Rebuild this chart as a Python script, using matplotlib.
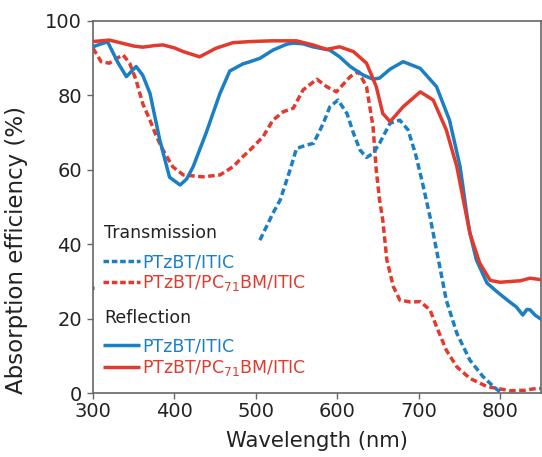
import numpy as np
import matplotlib
matplotlib.use("Agg")
import matplotlib.pyplot as plt
from matplotlib.transforms import offset_copy

# ---------------- data ----------------
refl_itic_wl = [300, 310, 318, 331, 341, 353, 361, 370, 382, 394, 407, 415, 423, 439, 456,
                468, 484, 493, 505, 521, 538, 546, 558, 570, 591, 603, 616, 632, 644, 652,
                665, 681, 702, 722, 738, 751, 759, 763, 771, 784, 795, 804, 812, 820, 828,
                833, 837, 843, 849]
refl_itic_val = [93.0, 93.8, 94.3, 88.6, 85.0, 87.7, 85.4, 80.5, 68.0, 58.0, 55.9, 57.5, 60.8,
                 69.9, 80.5, 86.5, 88.4, 89.0, 89.9, 92.1, 93.7, 94.0, 93.8, 93.0, 92.1, 90.3,
                 87.7, 85.4, 84.3, 84.6, 87.0, 89.0, 87.2, 82.3, 73.3, 60.8, 48.4, 43.0, 35.8,
                 29.6, 27.5, 25.9, 24.5, 23.2, 21.0, 22.5, 22.4, 21.0, 20.1]

refl_pcbm_wl = [300, 310, 320, 337, 350, 361, 375, 386, 400, 411, 431, 451, 472, 493, 520,
                550, 570, 587, 603, 620, 636, 642, 648, 656, 665, 681, 702, 718, 734, 747,
                759, 763, 775, 788, 800, 812, 825, 837, 850]
refl_pcbm_val = [94.4, 94.6, 94.8, 93.9, 93.2, 92.9, 93.3, 93.5, 92.7, 91.7, 90.3, 92.6, 94.1,
                 94.4, 94.6, 94.6, 93.5, 92.3, 93.0, 91.7, 88.6, 85.5, 82.3, 75.1, 72.9, 76.9,
                 80.9, 78.7, 70.7, 60.8, 47.4, 43.0, 35.0, 30.3, 29.8, 30.0, 30.2, 30.9, 30.5]

trans_pcbm_wl = [300, 310, 320, 330, 337, 345, 353, 361, 370, 378, 386, 398, 411, 435, 456,
                 472, 484, 493, 509, 521, 534, 546, 558, 575, 587, 599, 616, 626, 636, 644,
                 648, 652, 656, 661, 669, 677, 690, 702, 714, 722, 734, 747, 763, 784, 812,
                 830, 845, 850]
trans_pcbm_val = [92.6, 89.0, 88.6, 90.0, 90.8, 88.6, 84.0, 77.8, 73.3, 68.9, 65.3, 60.8, 58.6,
                  58.1, 58.6, 60.8, 63.5, 65.3, 68.9, 73.3, 75.6, 76.5, 81.4, 84.3, 82.3, 80.9,
                  85.0, 86.3, 82.3, 71.6, 59.9, 51.9, 46.5, 35.8, 28.6, 25.0, 24.5, 24.6, 22.4,
                  17.9, 11.6, 7.1, 4.0, 1.8, 0.7, 0.8, 1.3, 1.3]

trans_itic_wl = [300, 302, np.nan, 505, 521, 530, 542, 550, 562, 571, 583, 591, 601, 612, 620,
                 628, 636, 644, 652, 665, 677, 687, 696, 704, 714, 718, 726, 734, 747, 763,
                 779, 792, 802]
trans_itic_val = [28.2, 28.2, np.nan, 41.1, 48.3, 51.9, 59.9, 65.7, 66.6, 67.1, 72.5, 76.9,
                  78.7, 75.1, 69.8, 65.3, 63.3, 64.4, 67.1, 72.5, 73.3, 70.7, 64.4, 57.2, 47.4,
                  42.9, 34.0, 25.0, 16.1, 8.9, 4.5, 1.8, 0.0]

x_ticks = [300, 400, 500, 600, 700, 800]
y_ticks = [0, 20, 40, 60, 80, 100]

BLUE = "#1a7fc3"
RED = "#e23a2d"
SPINE = "#666666"

# ---------------- figure ----------------
plt.rcParams['font.family'] = ['DejaVu Sans']
fig = plt.figure(figsize=(5.42, 4.57), dpi=100)
ax = fig.add_axes([0.1716, 0.1394, 0.8260, 0.8153])

lw = 2.5
dash = (1.9, 1.0)
ax.plot(refl_itic_wl, refl_itic_val, color=BLUE, lw=lw, solid_joinstyle='round', zorder=3)
ax.plot(refl_pcbm_wl, refl_pcbm_val, color=RED, lw=lw, solid_joinstyle='round', zorder=3)
ax.plot(trans_pcbm_wl, trans_pcbm_val, color=RED, lw=lw, dashes=dash, zorder=2)
ax.plot(trans_itic_wl, trans_itic_val, color=BLUE, lw=lw, dashes=dash, zorder=2)

ax.set_xlim(300, 850)
ax.set_ylim(0, 100)
ax.set_xticks(x_ticks)
ax.set_yticks(y_ticks)
ax.tick_params(axis='both', direction='out', length=4.3, width=1.0, color=SPINE,
               labelsize=14, labelcolor='#222222')
ax.tick_params(axis='x', pad=2.0)
ax.tick_params(axis='y', pad=3.5)
for s in ax.spines.values():
    s.set_color(SPINE)
    s.set_linewidth(1.2)

ax.set_xlabel("Wavelength (nm)", fontsize=15.2, color='#222222', labelpad=7)
ax.set_ylabel("Absorption efficiency (%)", fontsize=16.5, color='#222222')
ax.yaxis.set_label_coords(-0.145, 0.385)

# ---------------- legend (manual) ----------------
lx0, lx1, tx = 0.022, 0.105, 0.110
tr_text = offset_copy(ax.transAxes, fig=fig, x=0, y=-4.7, units='points')
ax.text(lx0 + 0.002, 0.430, "Transmission", transform=ax.transAxes, fontsize=12.5,
        color='#222222', va='center')
ax.text(lx0 + 0.002, 0.202, "Reflection", transform=ax.transAxes, fontsize=12.5,
        color='#222222', va='center')
rows = [
    (0.356, BLUE, dash, "PTzBT/ITIC"),
    (0.2995, RED, dash, r"PTzBT/PC$_{71}$BM/ITIC"),
    (0.130, BLUE, None, "PTzBT/ITIC"),
    (0.0714, RED, None, r"PTzBT/PC$_{71}$BM/ITIC"),
]
for y, c, d, label in rows:
    if d is None:
        ax.plot([lx0, lx1], [y, y], transform=ax.transAxes, color=c, lw=lw,
                solid_capstyle='butt', clip_on=False)
    else:
        ax.plot([lx0, lx1], [y, y], transform=ax.transAxes, color=c, lw=lw,
                dashes=(1.6, 0.8), clip_on=False)
    ax.text(tx, y, label, transform=tr_text, fontsize=12.5, color=c, va='baseline')

fig.savefig("out.png", dpi=100)
